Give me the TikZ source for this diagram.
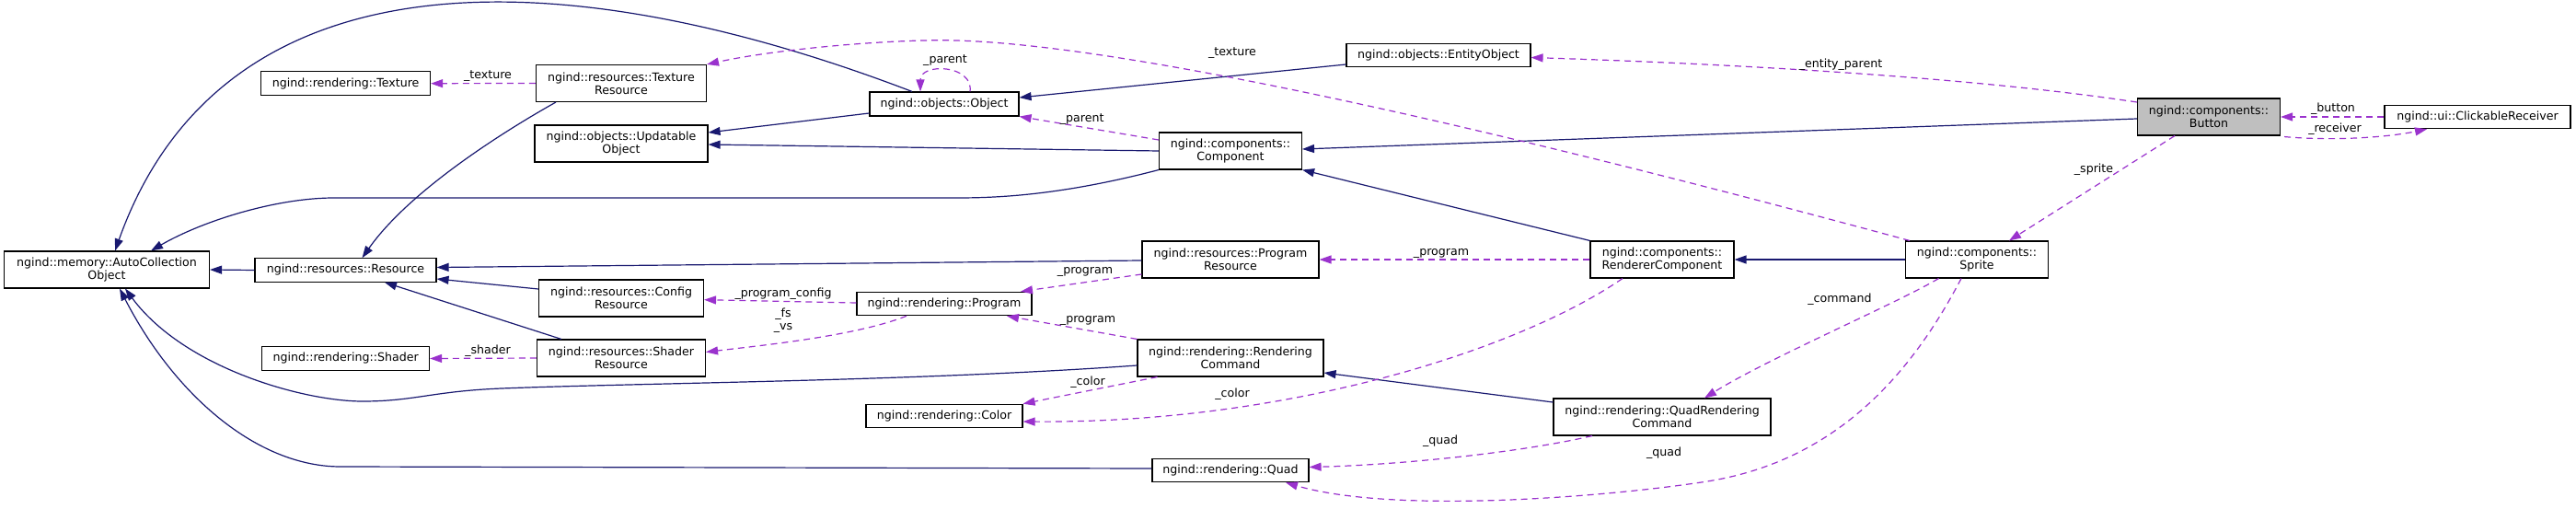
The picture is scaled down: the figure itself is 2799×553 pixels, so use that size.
\documentclass[tikz,border=0pt]{standalone}
\usepackage{fontspec}
\setmainfont{DejaVu Sans}
\usetikzlibrary{arrows.meta,calc}
\definecolor{navy}{HTML}{191970}
\definecolor{orch}{HTML}{9A32CD}
\definecolor{btngray}{HTML}{BFBFBF}
\begin{document}
\begin{tikzpicture}[x=1pt,y=-1pt,
  box/.style={draw=black, line width=1.1pt, fill=white, align=center, inner sep=0pt, font=\fontsize{12.6}{13.7}\selectfont},
  inh/.style={draw=navy, line width=1.2pt, -{Triangle[length=13pt,width=9pt]}},
  use/.style={draw=orch, line width=1.2pt, dash pattern=on 7pt off 5pt, -{Triangle[length=13pt,width=9pt]}},
  lbl/.style={font=\fontsize{12.6}{13.7}\selectfont, inner sep=0pt, align=center}]
\useasboundingbox (0,0) rectangle (2799,553);
\fill[white] (0,0) rectangle (2799,553);

% nodes
\node[box, minimum width=223pt, minimum height=40pt] (ac) at (116,293) {ngind::memory::AutoCollection\\Object};
\node[box, minimum width=197pt, minimum height=25.5pt] (res) at (375.5,293.5) {ngind::resources::Resource};
\node[box, minimum width=184pt, minimum height=26pt] (tex) at (375.6,90.7) {ngind::rendering::Texture};
\node[box, minimum width=185pt, minimum height=40pt] (texres) at (675,90.5) {ngind::resources::Texture\\Resource};
\node[box, minimum width=188pt, minimum height=40pt] (upd) at (675,156) {ngind::objects::Updatable\\Object};
\node[box, minimum width=179pt, minimum height=40pt] (cfg) at (675,324) {ngind::resources::Config\\Resource};
\node[box, minimum width=182pt, minimum height=26pt] (shd) at (375.6,389.5) {ngind::rendering::Shader};
\node[box, minimum width=183pt, minimum height=40pt] (shdres) at (675,389) {ngind::resources::Shader\\Resource};
\node[box, minimum width=162pt, minimum height=26pt] (obj) at (1026,113) {ngind::objects::Object};
\node[box, minimum width=200pt, minimum height=25pt] (ent) at (1563,60) {ngind::objects::EntityObject};
\node[box, minimum width=155pt, minimum height=40pt] (comp) at (1337,164) {ngind::components::\\Component};
\node[box, minimum width=192pt, minimum height=40pt] (progres) at (1337,282) {ngind::resources::Program\\Resource};
\node[box, minimum width=156pt, minimum height=40pt] (rendc) at (1806,282) {ngind::components::\\RendererComponent};
\node[box, minimum width=190pt, minimum height=25.5pt] (prog) at (1026,330) {ngind::rendering::Program};
\node[box, minimum width=202pt, minimum height=40pt] (rcmd) at (1337,389) {ngind::rendering::Rendering\\Command};
\node[box, minimum width=170pt, minimum height=25.5pt] (col) at (1026,452) {ngind::rendering::Color};
\node[box, minimum width=170pt, minimum height=25.5pt] (quad) at (1337,511) {ngind::rendering::Quad};
\node[box, minimum width=236pt, minimum height=40pt] (qrc) at (1806,453) {ngind::rendering::QuadRendering\\Command};
\node[box, fill=btngray, minimum width=155pt, minimum height=40pt] (btn) at (2400,127) {ngind::components::\\Button};
\node[box, minimum width=202pt, minimum height=25.5pt] (click) at (2692,127) {ngind::ui::ClickableReceiver};
\node[box, minimum width=155pt, minimum height=40pt] (spr) at (2148,282) {ngind::components::\\Sprite};

% inheritance edges
\draw[inh] ([xshift=-35]obj.north) .. controls (600,-50) and (240,-50) .. ([xshift=9]ac.north);
\draw[inh] (comp.south west) .. controls (1150,213) and (1080,215) .. (1039,215) -- (363,215) .. controls (300,215) and (220,240) .. ([xshift=48]ac.north);
\draw[inh] (comp.west) -- ([yshift=-1]upd.east);
\draw[inh] ([yshift=-10]obj.west) -- ([yshift=12]upd.east);
\draw[inh] ([yshift=-10]ent.west) -- ([yshift=7]obj.east);
\draw[inh] ([yshift=-2]btn.west) -- ([yshift=2]comp.east);
\draw[inh] (rendc.north west) -- (comp.south east);
\draw[inh] (spr.west) -- (rendc.east);
\draw[inh] ([xshift=22]texres.south west) .. controls (570,130) and (450,200) .. ([xshift=18]res.north);
\draw[inh] ([yshift=-1]progres.west) -- ([yshift=3]res.east);
\draw[inh] ([yshift=10]cfg.west) -- ([yshift=-9.5]res.east);
\draw[inh] ([xshift=27]shdres.north west) -- ([xshift=42.5]res.south);
\draw[inh] (res.west) -- (ac.east);
\draw[inh] ([yshift=-8]rcmd.west) .. controls (1000,414) and (700,416) .. (545,422) .. controls (470,425) and (450,436) .. (394,436) .. controls (330,436) and (200,400) .. ([xshift=20]ac.south);
\draw[inh] ([yshift=2]quad.west) -- (370,507) .. controls (280,507) and (190,430) .. ([xshift=14]ac.south);
\draw[inh] ([yshift=16]qrc.west) -- ([yshift=-16]rcmd.east);

% usage edges
\draw[use] ([yshift=12]comp.west) -- (obj.south east) node[lbl, pos=0.55, above=2pt] {\_parent};
\draw[use] ([xshift=28]obj.north) .. controls (1058,70) and (1000,68) .. ([xshift=-26]obj.north);
\node[lbl] (lparent) at (1027,66) {\_parent};
\draw[use] ([xshift=5]spr.north west) .. controls (1700,160) and (1250,50) .. (1039,44) .. controls (980,42) and (850,52) .. (texres.north east);
\node[lbl] (ltexture) at (1339,58) {\_texture};
\draw[use] ([yshift=16]btn.west) .. controls (2150,85) and (1900,70) .. ([yshift=-2.5]ent.east);
\node[lbl] (lentity) at (2000,70) {\_entity\_parent};
\draw[use] (click.west) -- (btn.east);
\node[lbl] (lbutton) at (2535,118) {\_button};
\draw[use] ([xshift=4,yshift=-1]btn.south east) .. controls (2530,153) and (2590,150) .. ([xshift=-55]click.south);
\node[lbl] (lreceiver) at (2537,140) {\_receiver};
\draw[use] ([xshift=-37]btn.south) -- ([xshift=35]spr.north);
\node[lbl] (lsprite) at (2275,184) {\_sprite};
\draw[use] ([xshift=-41.5]spr.south) .. controls (2060,330) and (1920,390) .. ([xshift=46]qrc.north);
\node[lbl] (lcommand) at (1999,325) {\_command};
\draw[use] ([xshift=-17]spr.south) .. controls (2080,400) and (2000,500) .. (1855,523) .. controls (1760,538) and (1520,560) .. ([xshift=60]quad.south);
\node[lbl] (lquad1) at (1808,492) {\_quad};
\draw[use] ([xshift=-76]qrc.south) .. controls (1650,492) and (1520,505) .. ([yshift=3.5]quad.east);
\node[lbl] (lquad2) at (1565,479) {\_quad};
\draw[use] ([xshift=-43]rendc.south) .. controls (1650,380) and (1400,460) .. ([yshift=-6]col.east);
\node[lbl] (lcolor1) at (1339,428) {\_color};
\draw[use] ([xshift=-79.5]rcmd.south) -- (col.north east);
\node[lbl] (lcolor2) at (1182,415) {\_color};
\draw[use] (rcmd.north west) -- ([xshift=68]prog.south);
\node[lbl] (lprog1) at (1182,348) {\_program};
\draw[use] ([yshift=-16]progres.west) -- ([xshift=83]prog.north);
\node[lbl] (lprog2) at (1179,295) {\_program};
\draw[use] (rendc.west) -- (progres.east);
\node[lbl] (lprog3) at (1566,275) {\_program};
\draw[use] ([yshift=1]prog.west) -- ([yshift=-1.7]cfg.east);
\node[lbl] (lpcfg) at (851,319) {\_program\_config};
\draw[use] ([xshift=-41]prog.south) .. controls (930,365) and (830,375) .. ([yshift=6.5]shdres.east);
\node[lbl] (lfsvs) at (851,348.5) {\_fs\\\_vs};
\draw[use] (texres.west) -- (tex.east);
\node[lbl] (ltex2) at (530,82.5) {\_texture};
\draw[use] (shdres.west) -- (shd.east);
\node[lbl] (lshader) at (530,381.5) {\_shader};
\end{tikzpicture}
\end{document}
